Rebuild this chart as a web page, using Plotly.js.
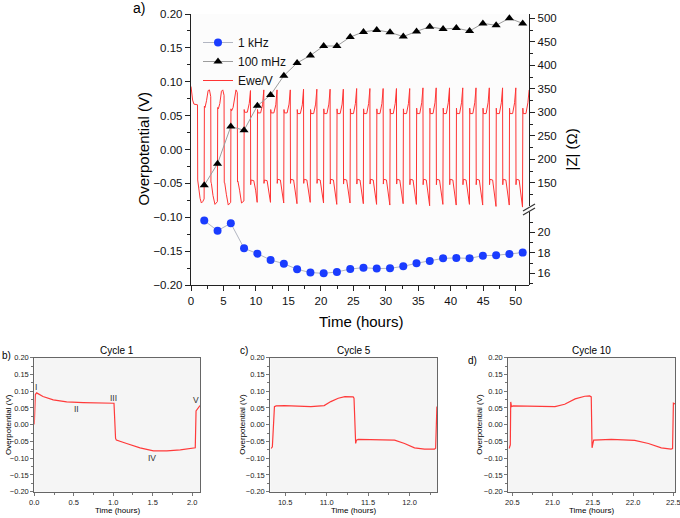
<!DOCTYPE html>
<html><head><meta charset="utf-8">
<script src="https://cdn.plot.ly/plotly-3.0.1.min.js"></script>
<style>html,body{margin:0;padding:0;background:#fff;}#chart{width:680px;height:518px;}</style>
</head><body><div id="chart"></div>
<script>
// ---- Data ----
const impTime = [2.04, 4.09, 6.13, 8.17, 10.22, 12.26, 14.30, 16.34, 18.39, 20.43, 22.47, 24.52, 26.56, 28.60, 30.65, 32.69, 34.73, 36.77, 38.82, 40.86, 42.90, 44.95, 46.99, 49.03, 51.08];
const z1kHz = [21.14, 20.16, 20.88, 18.44, 17.92, 17.30, 16.94, 16.39, 16.07, 16.00, 16.13, 16.42, 16.55, 16.46, 16.49, 16.68, 16.98, 17.20, 17.46, 17.50, 17.46, 17.72, 17.76, 17.89, 18.02];
const z100mHz = [145, 191, 270, 262, 314, 337, 378, 405, 421, 441, 441, 460, 471, 475, 470, 461, 472, 482, 477, 479, 473, 489, 485, 500, 489];

const eweTime = [
0, 0.10, 0.25, 0.45, 1.00, 1.03, 1.20, 1.40, 1.60, 1.80, 2.02,
2.06, 2.16, 2.39, 2.64, 2.84, 3.04, 3.07, 3.14, 3.39, 3.69, 4.06,
4.11, 4.21, 4.44, 4.69, 4.89, 5.09, 5.12, 5.19, 5.44, 5.74, 6.11,
6.15, 6.25, 6.48, 6.73, 6.93, 7.13, 7.16, 7.23, 7.48, 7.78, 8.15,
8.19, 8.25, 8.67, 8.97, 9.16, 9.19, 9.25, 9.67, 9.95, 10.19,
10.24, 10.30, 10.72, 11.02, 11.21, 11.24, 11.30, 11.72, 12.00, 12.24,
12.28, 12.34, 12.76, 13.06, 13.25, 13.28, 13.34, 13.76, 14.04, 14.28,
14.32, 14.38, 14.80, 15.10, 15.29, 15.32, 15.38, 15.80, 16.08, 16.32,
16.36, 16.42, 16.84, 17.14, 17.33, 17.36, 17.42, 17.84, 18.12, 18.36,
18.41, 18.47, 18.89, 19.19, 19.38, 19.41, 19.47, 19.89, 20.17, 20.41,
20.45, 20.51, 20.93, 21.23, 21.42, 21.45, 21.51, 21.93, 22.21, 22.45,
22.49, 22.55, 22.97, 23.27, 23.46, 23.49, 23.55, 23.97, 24.25, 24.49,
24.54, 24.60, 25.02, 25.32, 25.51, 25.54, 25.60, 26.02, 26.30, 26.54,
26.58, 26.64, 27.06, 27.36, 27.55, 27.58, 27.64, 28.06, 28.34, 28.58,
28.62, 28.68, 29.10, 29.40, 29.59, 29.62, 29.68, 30.10, 30.38, 30.62,
30.67, 30.73, 31.15, 31.45, 31.64, 31.67, 31.73, 32.15, 32.43, 32.67,
32.71, 32.77, 33.19, 33.49, 33.68, 33.71, 33.77, 34.19, 34.47, 34.71,
34.75, 34.81, 35.23, 35.53, 35.72, 35.75, 35.81, 36.23, 36.51, 36.75,
36.79, 36.85, 37.27, 37.57, 37.76, 37.79, 37.85, 38.27, 38.55, 38.79,
38.84, 38.90, 39.32, 39.62, 39.81, 39.84, 39.90, 40.32, 40.60, 40.84,
40.88, 40.94, 41.36, 41.66, 41.85, 41.88, 41.94, 42.36, 42.64, 42.88,
42.92, 42.98, 43.40, 43.70, 43.89, 43.92, 43.98, 44.40, 44.68, 44.92,
44.97, 45.03, 45.45, 45.75, 45.94, 45.97, 46.03, 46.45, 46.73, 46.97,
47.01, 47.07, 47.49, 47.79, 47.98, 48.01, 48.07, 48.49, 48.77, 49.01,
49.05, 49.11, 49.53, 49.83, 50.02, 50.05, 50.11, 50.53, 50.81, 51.05,
51.10, 51.16, 51.58, 51.88, 52.07
];
const eweVolt = [
0.093, 0.082, 0.073, 0.067, 0.066, -0.045, -0.058, -0.072, -0.079, -0.077, -0.073,
0.064, 0.062, 0.072, 0.087, 0.088, 0.078, -0.048, -0.050, -0.068, -0.081, -0.077,
0.062, 0.060, 0.068, 0.086, 0.088, 0.080, -0.049, -0.049, -0.066, -0.082, -0.078,
0.060, 0.057, 0.062, 0.080, 0.088, 0.084, -0.048, -0.047, -0.060, -0.079, -0.076,
0.059, 0.055, 0.055, 0.068, 0.087, -0.052, -0.045, -0.046, -0.060, -0.078,
0.059, 0.054, 0.054, 0.066, 0.088, -0.050, -0.045, -0.046, -0.062, -0.078,
0.059, 0.054, 0.054, 0.066, 0.088, -0.050, -0.044, -0.045, -0.061, -0.079,
0.059, 0.054, 0.054, 0.067, 0.088, -0.050, -0.044, -0.045, -0.062, -0.080,
0.059, 0.053, 0.053, 0.066, 0.089, -0.050, -0.044, -0.045, -0.062, -0.078,
0.059, 0.053, 0.053, 0.067, 0.089, -0.050, -0.044, -0.045, -0.063, -0.079,
0.060, 0.053, 0.053, 0.067, 0.089, -0.051, -0.044, -0.045, -0.062, -0.081,
0.060, 0.053, 0.053, 0.067, 0.089, -0.051, -0.044, -0.045, -0.063, -0.079,
0.060, 0.053, 0.053, 0.068, 0.090, -0.051, -0.044, -0.045, -0.063, -0.080,
0.060, 0.053, 0.053, 0.068, 0.090, -0.051, -0.044, -0.045, -0.063, -0.081,
0.060, 0.053, 0.053, 0.068, 0.090, -0.051, -0.044, -0.045, -0.064, -0.082,
0.060, 0.053, 0.053, 0.068, 0.090, -0.051, -0.044, -0.045, -0.063, -0.080,
0.060, 0.053, 0.053, 0.068, 0.090, -0.052, -0.044, -0.045, -0.064, -0.081,
0.061, 0.053, 0.053, 0.069, 0.091, -0.052, -0.044, -0.045, -0.064, -0.083,
0.061, 0.053, 0.053, 0.069, 0.091, -0.052, -0.044, -0.045, -0.064, -0.081,
0.061, 0.053, 0.053, 0.069, 0.091, -0.052, -0.044, -0.045, -0.064, -0.082,
0.061, 0.053, 0.053, 0.069, 0.091, -0.052, -0.044, -0.045, -0.064, -0.081,
0.061, 0.053, 0.053, 0.069, 0.091, -0.052, -0.044, -0.045, -0.065, -0.082,
0.061, 0.053, 0.053, 0.069, 0.091, -0.052, -0.044, -0.045, -0.065, -0.084,
0.061, 0.053, 0.053, 0.069, 0.091, -0.052, -0.044, -0.045, -0.065, -0.082,
0.061, 0.053, 0.053, 0.069, 0.091, -0.052, -0.044, -0.045, -0.065, -0.085,
0.061, 0.053, 0.053, 0.069, 0.088
];

const cycle1Time = [0, 0.004, 0.013, 0.03, 0.11, 0.24, 0.41, 0.62, 1.0, 1.01, 1.03, 1.04, 1.17, 1.34, 1.51, 1.68, 1.85, 2.02, 2.04, 2.05, 2.07, 2.1];
const cycle1Volt = [0.001, 0.054, 0.09, 0.095, 0.084, 0.074, 0.068, 0.066, 0.066, 0.064, -0.041, -0.046, -0.056, -0.069, -0.078, -0.078, -0.075, -0.071, -0.069, 0.041, 0.047, 0.057];
const cycle5Time = [10.33, 10.345, 10.37, 10.39, 10.49, 10.81, 10.97, 11.05, 11.14, 11.22, 11.32, 11.33, 11.35, 11.36, 11.38, 11.62, 11.82, 11.94, 12.06, 12.18, 12.30, 12.315, 12.33];
const cycle5Volt = [-0.071, -0.066, 0.054, 0.056, 0.057, 0.054, 0.057, 0.069, 0.079, 0.084, 0.083, 0.079, -0.056, -0.046, -0.044, -0.044, -0.046, -0.056, -0.069, -0.073, -0.073, -0.07, 0.054];
const cycle10Time = [20.46, 20.475, 20.48, 20.49, 20.51, 20.82, 21.03, 21.15, 21.28, 21.40, 21.46, 21.48, 21.49, 21.51, 21.73, 22.02, 22.19, 22.35, 22.47, 22.49, 22.50, 22.52];
const cycle10Volt = [-0.071, -0.06, 0.068, 0.054, 0.056, 0.056, 0.054, 0.061, 0.077, 0.085, 0.086, 0.083, -0.069, -0.046, -0.044, -0.047, -0.056, -0.069, -0.073, -0.071, 0.064, 0.062];

const panelTitles = ['Cycle 1', 'Cycle 5', 'Cycle 10'];
const romanLabels = ['I', 'II', 'III', 'IV', 'V'];

// ---- Layout helpers ----
const W = 680, H = 518;
const px = v => v / W;
const py = v => 1 - v / H;
const FONT = 'Arial, "Liberation Sans", sans-serif';
const AX = '#222';

function mainAxis(extra) {
  return Object.assign({
    showgrid: false, zeroline: false, showline: true, linecolor: AX, linewidth: 1.2,
    ticks: 'outside', ticklen: 5, tickwidth: 1, tickcolor: AX,
    tickfont: {family: FONT, size: 11.5, color: '#111'}
  }, extra);
}
function panelAxis(extra) {
  return Object.assign({
    showgrid: false, zeroline: false, showline: true, mirror: true, linecolor: '#666', linewidth: 1,
    ticks: 'outside', ticklen: 3, tickwidth: 0.8, tickcolor: '#555', ticklabeloverflow: 'allow',
    tickfont: {family: FONT, size: 7.5, color: '#222'}
  }, extra);
}

const traces = [
  {x: eweTime, y: eweVolt, xaxis: 'x', yaxis: 'y', type: 'scatter', mode: 'lines',
   name: 'Ewe/V', legendrank: 3, line: {color: '#ff3434', width: 1}},
  {x: impTime, y: z100mHz, xaxis: 'x', yaxis: 'y2', type: 'scatter', mode: 'lines+markers',
   name: '100 mHz', legendrank: 2, line: {color: '#9c9c9c', width: 1},
   marker: {symbol: 'triangle-up', size: 8, color: '#000'}},
  {x: impTime, y: z1kHz, xaxis: 'x', yaxis: 'y3', type: 'scatter', mode: 'lines+markers',
   name: '1 kHz', legendrank: 1, line: {color: '#b2b6c2', width: 1},
   marker: {symbol: 'circle', size: 8, color: '#1a3cff'}},
  {x: cycle1Time, y: cycle1Volt, xaxis: 'x3', yaxis: 'y4', type: 'scatter', mode: 'lines',
   showlegend: false, line: {color: '#ff3a3a', width: 1.2}},
  {x: cycle5Time, y: cycle5Volt, xaxis: 'x4', yaxis: 'y5', type: 'scatter', mode: 'lines',
   showlegend: false, line: {color: '#ff3a3a', width: 1.2}},
  {x: cycle10Time, y: cycle10Volt, xaxis: 'x5', yaxis: 'y6', type: 'scatter', mode: 'lines',
   showlegend: false, line: {color: '#ff3a3a', width: 1.2}}
];

const mainX = [px(191), px(529)];
const panelY = [py(491.7), py(357.7)];
const panelXs = [[px(34.3), px(200)], [px(270.3), px(437.3)], [px(508.3), px(675)]];

function ann(text, x, y, size, extra) {
  return Object.assign({text: text, xref: 'paper', yref: 'paper', x: px(x), y: py(y),
    xanchor: 'center', yanchor: 'middle', showarrow: false,
    font: {family: FONT, size: size, color: '#000'}}, extra || {});
}

const annotations = [
  ann('a)', 139, 8, 14),
  ann('Time (hours)', 360.5, 321, 15),
  ann('Overpotential (V)', 143, 149.5, 15, {textangle: -90}),
  ann('|Z| (Ω)', 571, 149.5, 15, {textangle: -90}),
  ann('b)', 6, 355, 10), ann('c)', 244, 350, 10), ann('d)', 472, 360, 10)
];
panelXs.forEach((d, i) => {
  const cx = (d[0] + d[1]) / 2 * W;
  annotations.push(ann(panelTitles[i], cx, 350, 10));
  annotations.push(ann('Time (hours)', cx, 510, 8));
});
[8.3, 243, 480].forEach(x => annotations.push(ann('Overpotential (V)', x, 424.7, 8, {textangle: -90})));
// roman numerals in the Cycle 1 panel
const romanPos = [[0.02, 0.112], [0.53, 0.047], [1.01, 0.081], [1.49, -0.10], [2.05, 0.073]];
romanLabels.forEach((t, i) => annotations.push({text: t, xref: 'x3', yref: 'y4', x: romanPos[i][0], y: romanPos[i][1],
  showarrow: false, font: {family: FONT, size: 8.5, color: '#333'}}));

const shapes = [
  {type: 'rect', xref: 'x domain', yref: 'y domain', x0: 0, x1: 1, y0: 0, y1: 1, layer: 'below',
   fillcolor: '#fcfcfc', line: {width: 0}},
  {type: 'rect', xref: 'x3 domain', yref: 'y4 domain', x0: 0, x1: 1, y0: 0, y1: 1, layer: 'below',
   fillcolor: '#f5f5f5', line: {width: 0}},
  {type: 'rect', xref: 'x4 domain', yref: 'y5 domain', x0: 0, x1: 1, y0: 0, y1: 1, layer: 'below',
   fillcolor: '#f5f5f5', line: {width: 0}},
  {type: 'rect', xref: 'x5 domain', yref: 'y6 domain', x0: 0, x1: 1, y0: 0, y1: 1, layer: 'below',
   fillcolor: '#f5f5f5', line: {width: 0}},
  // axis break marks
  {type: 'line', xref: 'paper', yref: 'paper', x0: px(523), x1: px(535), y0: py(211), y1: py(204), line: {color: '#333', width: 1.2}},
  {type: 'line', xref: 'paper', yref: 'paper', x0: px(523), x1: px(535), y0: py(215), y1: py(208), line: {color: '#333', width: 1.2}}
];

const layout = {
  width: W, height: H, margin: {l: 0, r: 0, t: 0, b: 0},
  paper_bgcolor: '#ffffff', plot_bgcolor: 'rgba(0,0,0,0)',
  font: {family: FONT, color: '#111'},
  showlegend: true,
  legend: {x: px(198), y: py(28), xanchor: 'left', yanchor: 'top', bgcolor: 'rgba(0,0,0,0)',
    font: {family: FONT, size: 12, color: '#111'}, tracegroupgap: 0, itemwidth: 30},
  xaxis: mainAxis({domain: mainX, anchor: 'y', range: [0, 52.05], dtick: 5, tick0: 0,
    minor: {ticks: 'outside', ticklen: 3, dtick: 2.5, tickcolor: AX}}),
  xaxis2: {overlaying: 'x', anchor: 'y', side: 'top', range: [0, 52.05], dtick: 5, tick0: 0,
    showticklabels: false, showgrid: false, zeroline: false, showline: true, linecolor: AX, linewidth: 1.2,
    ticks: 'inside', ticklen: 4, tickcolor: AX, minor: {ticks: 'inside', ticklen: 2.5, dtick: 2.5, tickcolor: AX}},
  yaxis: mainAxis({domain: [py(285), py(14)], anchor: 'x', range: [-0.2, 0.2], dtick: 0.05, tick0: 0,
    tickformat: '.2f', minor: {ticks: 'outside', ticklen: 3, dtick: 0.025, tickcolor: AX}}),
  yaxis2: mainAxis({domain: [py(206), py(14)], anchor: 'x', side: 'right', range: [101, 509], dtick: 50, tick0: 0,
    minor: {ticks: 'outside', ticklen: 3, dtick: 25, tickcolor: AX}}),
  yaxis3: mainAxis({domain: [py(285), py(212)], anchor: 'x', side: 'right', range: [14.86, 21.98], dtick: 2, tick0: 0,
    minor: {ticks: 'outside', ticklen: 3, dtick: 1, tickcolor: AX}}),
  xaxis3: panelAxis({domain: panelXs[0], anchor: 'y4', range: [0, 2.1], dtick: 0.5, tick0: 0, tickformat: '.1f',
    minor: {ticks: 'outside', ticklen: 2, dtick: 0.25, tickcolor: '#555'}}),
  xaxis4: panelAxis({domain: panelXs[1], anchor: 'y5', range: [10.32, 12.335], dtick: 0.5, tick0: 0, tickformat: '.1f',
    minor: {ticks: 'outside', ticklen: 2, dtick: 0.25, tickcolor: '#555'}}),
  xaxis5: panelAxis({domain: panelXs[2], anchor: 'y6', range: [20.45, 22.52], dtick: 0.5, tick0: 0, tickformat: '.1f',
    minor: {ticks: 'outside', ticklen: 2, dtick: 0.25, tickcolor: '#555'}}),
  yaxis4: panelAxis({domain: panelY, anchor: 'x3', range: [-0.2, 0.2], dtick: 0.05, tick0: 0, tickformat: '.2f',
    minor: {ticks: 'outside', ticklen: 2, dtick: 0.025, tickcolor: '#555'}}),
  yaxis5: panelAxis({domain: panelY, anchor: 'x4', range: [-0.2, 0.2], dtick: 0.05, tick0: 0, tickformat: '.2f',
    minor: {ticks: 'outside', ticklen: 2, dtick: 0.025, tickcolor: '#555'}}),
  yaxis6: panelAxis({domain: panelY, anchor: 'x5', range: [-0.2, 0.2], dtick: 0.05, tick0: 0, tickformat: '.2f',
    minor: {ticks: 'outside', ticklen: 2, dtick: 0.025, tickcolor: '#555'}}),
  annotations: annotations,
  shapes: shapes
};

Plotly.newPlot('chart', traces, layout, {staticPlot: true, displayModeBar: false});
</script>
</body></html>
